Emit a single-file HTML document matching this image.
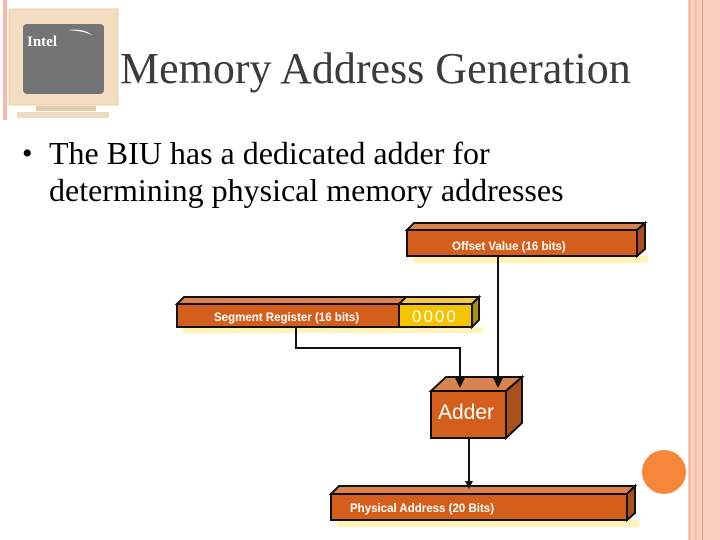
<!DOCTYPE html>
<html><head><style>
body{margin:0;width:720px;height:540px;background:#fff;position:relative;overflow:hidden;font-family:"Liberation Serif",serif}
.t{position:absolute;left:120px;top:44px;font-size:44px;line-height:50px;color:#3c3c3c}
.b{position:absolute;left:49px;top:135px;font-size:32px;line-height:37px;color:#000;white-space:nowrap}
.d{position:absolute;left:22px;top:135px;font-size:30px;line-height:37px}
</style></head><body>
<svg width="720" height="540" style="position:absolute;left:0;top:0">
<rect x="688" y="0" width="32" height="540" fill="#fbd0bf"/>
<rect x="689" y="0" width="1.5" height="540" fill="#f4b49c"/>
<rect x="695" y="0" width="1.5" height="540" fill="#f4b49c"/>
<rect x="702" y="0" width="1" height="540" fill="#e99a80"/>
<rect x="3" y="0" width="4" height="120" fill="#f7bca8"/>
<rect x="9" y="9" width="109" height="96" fill="#f3dcc0" stroke="#e8cca8"/>
<rect x="23" y="24" width="81" height="70" rx="4" fill="#747476"/>
<path d="M68 30 Q85 28 93 36 Q86 31 68 30Z" fill="#fff"/>
<rect x="36" y="106" width="60" height="5" fill="#e3caa6"/>
<rect x="17" y="112" width="92" height="6" fill="#ecdbc1"/>
<text x="27" y="46" font-family="Liberation Serif" font-weight="bold" font-size="15" fill="#fff">Intel</text>
<circle cx="664" cy="472" r="22" fill="#f5863a"/>
<g stroke="#111" stroke-width="2">
<rect x="413" y="256" width="235" height="7" fill="#fff3b8" stroke="none"/>
<rect x="183" y="327" width="300" height="6" fill="#fff3b8" stroke="none"/>
<rect x="337" y="520" width="302" height="7" fill="#fff3b8" stroke="none"/>
<polygon points="407,230 414,223 645,223 637,230" fill="#d9844f"/>
<polygon points="637,230 645,223 645,249 637,256" fill="#a8501c"/>
<rect x="407" y="230" width="230" height="26" fill="#d45f1d"/>
<polygon points="177,304 184,297 407,297 400,304" fill="#d9844f"/>
<rect x="177" y="304" width="222" height="23" fill="#d45f1d"/>
<polygon points="399,304 406,297 479,297 472,304" fill="#f3c94c"/>
<polygon points="472,304 479,297 479,320 472,327" fill="#a89010"/>
<rect x="399" y="304" width="73" height="23" fill="#f5c400"/>
<polygon points="431,391 446,377 522,377 506,391" fill="#d9844f"/>
<polygon points="506,391 522,377 522,423 506,438" fill="#a8501c"/>
<rect x="431" y="391" width="75" height="47" fill="#d45f1d"/>
<polygon points="331,494 339,486 635,486 627,494" fill="#d9844f"/>
<polygon points="627,494 635,486 635,513 627,520" fill="#a8501c"/>
<rect x="331" y="494" width="296" height="26" fill="#d45f1d"/>
<polyline points="498,257 498,380" fill="none"/>
<polyline points="296,328 296,348 460,348 460,380" fill="none"/>
<polyline points="469,439 469,482" fill="none"/>
</g>
<polygon points="493,378 503,378 498,388" fill="#111"/>
<polygon points="455,378 465,378 460,388" fill="#111"/>
<polygon points="465,481 473,481 469,489" fill="#111"/>
<g font-family="Liberation Sans" fill="#fff" font-weight="bold" font-size="11.5">
<text x="452" y="250">Offset Value (16 bits)</text>
<text x="214" y="321">Segment Register (16 bits)</text>
<text x="350" y="512">Physical Address (20 Bits)</text>
</g>
<text x="412" y="322" font-family="Liberation Sans" font-size="17" fill="#fff" letter-spacing="2">0000</text>
<text x="438" y="419" font-family="Liberation Sans" font-size="21" fill="#fff">Adder</text>
</svg>
<div class="t">Memory Address Generation</div>
<div class="d">•</div>
<div class="b">The BIU has a dedicated adder for<br>determining physical memory addresses</div>
</body></html>
